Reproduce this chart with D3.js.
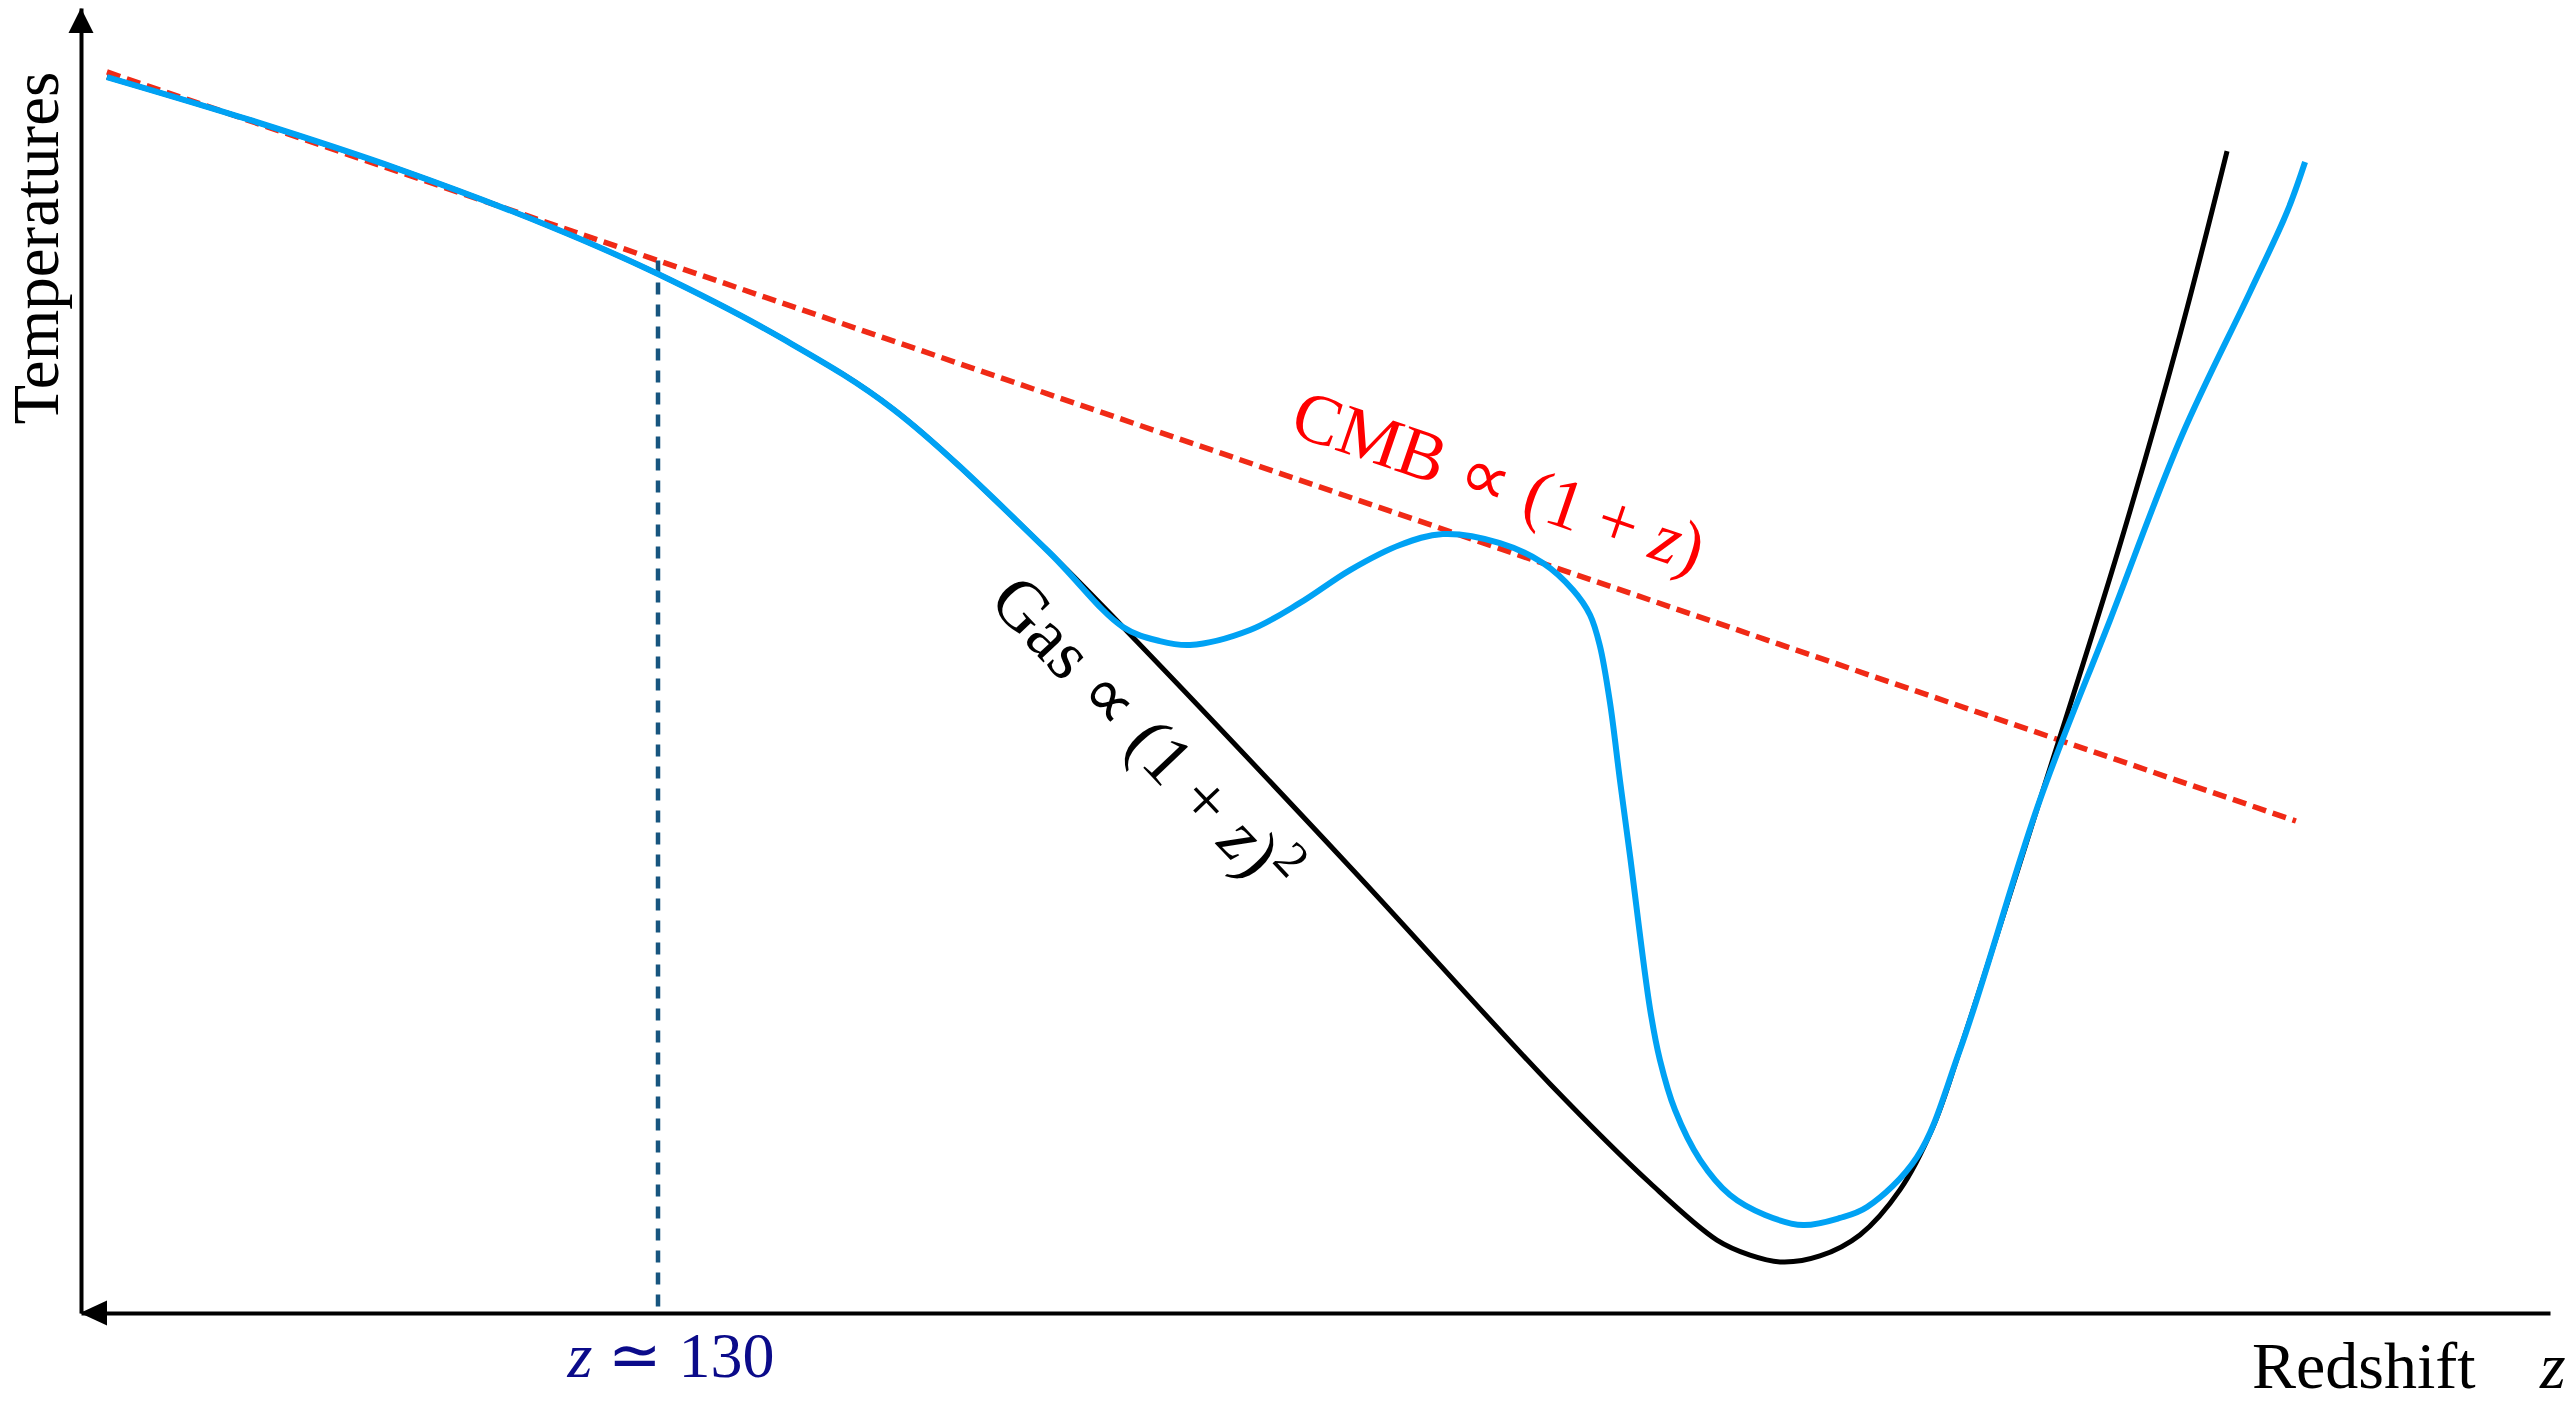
<!DOCTYPE html>
<html>
<head>
<meta charset="utf-8">
<script src="https://cdn.jsdelivr.net/npm/d3@7"></script>
<style>
  html, body { margin: 0; padding: 0; background: #fff; }
  svg { display: block; }
  text { font-family: "Liberation Serif", "Times New Roman", serif; }
</style>
</head>
<body>
<div id="chart"></div>
<script>
const width = 2570,
  height = 1404;

// schematic units: x = time-like coordinate (high z on the left), T = temperature
const sharedX = [1.05, 6.84, 12.92, 19.00, 23.33, 28.43, 32.89, 39.12, 42.20];
const sharedT = [94.71, 91.42, 87.62, 83.26, 79.65, 74.64, 69.27, 58.47, 52.57];

const gasX = [51.40, 59.50, 63.55, 66.26, 67.60, 68.89, 70.43, 72.05, 73.67, 75.01, 76.10, 79.34, 82.58, 85.01, 86.92];
const gasT = [34.18, 17.55, 9.96, 5.59, 4.44, 3.91, 4.37, 5.98, 9.43, 14.25, 20.15, 39.31, 58.85, 74.94, 89.04];

const spinX = [43.70, 44.92, 47.35, 49.37, 51.40, 53.42, 55.16, 57.47, 59.21, 60.43, 61.12, 61.52, 61.93, 62.33, 62.74, 63.55, 63.95, 64.56, 65.58, 66.79, 68.21, 69.75, 71.24, 72.34, 74.36, 76.10, 79.34, 82.18, 85.10, 87.85, 89.35, 90.08];
const spinT = [51.49, 51.19, 52.34, 54.41, 56.93, 58.85, 59.69, 59.00, 57.47, 55.40, 53.49, 51.11, 46.74, 40.84, 35.02, 23.30, 19.39, 15.56, 11.72, 9.04, 7.51, 6.74, 7.28, 8.12, 11.95, 20.15, 39.31, 53.10, 67.28, 78.24, 84.37, 88.20];

const cmbX = [1.05, 89.71];
const cmbT = [95.10, 37.70];

const zMarkX = 23.37;
const zMarkValue = "130";

const x = d3.scaleLinear().domain([0, 100]).range([81, 2550]);
const y = d3.scaleLinear().domain([0, 100]).range([1313, 8]);

const zip = (xs, ts) => xs.map((v, i) => [v, ts[i]]);
const gasData = zip(sharedX.concat(gasX), sharedT.concat(gasT));
const spinData = zip(sharedX.concat(spinX), sharedT.concat(spinT));
const cmbData = zip(cmbX, cmbT);

const cmbAt = d3.scaleLinear().domain(cmbX).range(cmbT);

const line = d3.line()
  .x((d) => x(d[0]))
  .y((d) => y(d[1]))
  .curve(d3.curveCatmullRom.alpha(0.5));

const svg = d3.select("#chart").append("svg")
  .attr("width", width)
  .attr("height", height);

// axes: plain lines, no ticks
svg.append("g")
  .attr("transform", `translate(0,${y(0)})`)
  .call(d3.axisBottom(x).tickValues([]).tickSizeOuter(0))
  .call((g) => g.select(".domain").attr("stroke", "#000").attr("stroke-width", 4));

svg.append("g")
  .attr("transform", `translate(${x(0)},0)`)
  .call(d3.axisLeft(y).tickValues([]).tickSizeOuter(0))
  .call((g) => g.select(".domain").attr("stroke", "#000").attr("stroke-width", 4));

// arrow heads
svg.append("path")
  .attr("d", `M${x(0) - 1},${y(0)} L${x(0) + 26},${y(0) - 12.5} L${x(0) + 26},${y(0) + 12.5} Z`)
  .attr("fill", "#000");
svg.append("path")
  .attr("d", `M${x(0)},${y(100)} L${x(0) - 12.5},${y(100) + 25} L${x(0) + 12.5},${y(100) + 25} Z`)
  .attr("fill", "#000");

// CMB dashed line
svg.append("path")
  .attr("d", line(cmbData))
  .attr("fill", "none")
  .attr("stroke", "#f02a16")
  .attr("stroke-width", 5.5)
  .attr("stroke-dasharray", "14,7");

// z ~ 130 marker
svg.append("line")
  .attr("x1", x(zMarkX))
  .attr("x2", x(zMarkX))
  .attr("y1", y(cmbAt(zMarkX)))
  .attr("y2", y(0))
  .attr("stroke", "#17557f")
  .attr("stroke-width", 4.5)
  .attr("stroke-dasharray", "12,10");

// gas temperature
svg.append("path")
  .attr("d", line(gasData))
  .attr("fill", "none")
  .attr("stroke", "#000")
  .attr("stroke-width", 5);

// spin temperature
svg.append("path")
  .attr("d", line(spinData))
  .attr("fill", "none")
  .attr("stroke", "#00a2f4")
  .attr("stroke-width", 6);

// axis labels
svg.append("text")
  .attr("transform", `translate(58,248) rotate(-90)`)
  .attr("text-anchor", "middle")
  .attr("font-size", 65)
  .text("Temperatures");

svg.append("text")
  .attr("x", 2252)
  .attr("y", 1388)
  .attr("font-size", 66)
  .text("Redshift");

svg.append("text")
  .attr("x", 2540)
  .attr("y", 1388)
  .attr("font-size", 66)
  .attr("font-style", "italic")
  .text("z");

const zLab = svg.append("text")
  .attr("x", x(zMarkX) + 13)
  .attr("y", 1377)
  .attr("text-anchor", "middle")
  .attr("font-size", 64)
  .attr("fill", "#0b0b8a");
zLab.append("tspan").attr("font-style", "italic").text("z");
zLab.append("tspan").text(` \u2243 ${zMarkValue}`);

// CMB label, sloped along the dashed line
const cmbLabX = 56.6;
const cmbAngle = Math.atan2(y(cmbT[1]) - y(cmbT[0]), x(cmbX[1]) - x(cmbX[0])) * 180 / Math.PI;
const cmbLab = svg.append("text")
  .attr("transform", `translate(${x(cmbLabX)},${y(cmbAt(cmbLabX))}) rotate(${cmbAngle})`)
  .attr("y", -40)
  .attr("text-anchor", "middle")
  .attr("font-size", 71)
  .attr("fill", "#ff0000");
cmbLab.append("tspan").text("CMB \u221D (1 + ");
cmbLab.append("tspan").attr("font-style", "italic").text("z");
cmbLab.append("tspan").text(")");

// Gas label, sloped along the straight part of the gas curve
const gasAt = d3.scaleLinear().domain([sharedX[8], gasX[0]]).range([sharedT[8], gasT[0]]);
const gasLabX = 44.8;
const gasAngle = Math.atan2(y(gasT[0]) - y(sharedT[8]), x(gasX[0]) - x(sharedX[8])) * 180 / Math.PI;
const gasLab = svg.append("text")
  .attr("transform", `translate(${x(gasLabX)},${y(gasAt(gasLabX))}) rotate(${gasAngle})`)
  .attr("y", 82)
  .attr("text-anchor", "middle")
  .attr("font-size", 71)
  .attr("fill", "#000");
gasLab.append("tspan").text("Gas \u221D (1 + ");
gasLab.append("tspan").attr("font-style", "italic").text("z");
gasLab.append("tspan").text(")");
gasLab.append("tspan").attr("font-size", 50).attr("dy", -28).text("2");
</script>
</body>
</html>
